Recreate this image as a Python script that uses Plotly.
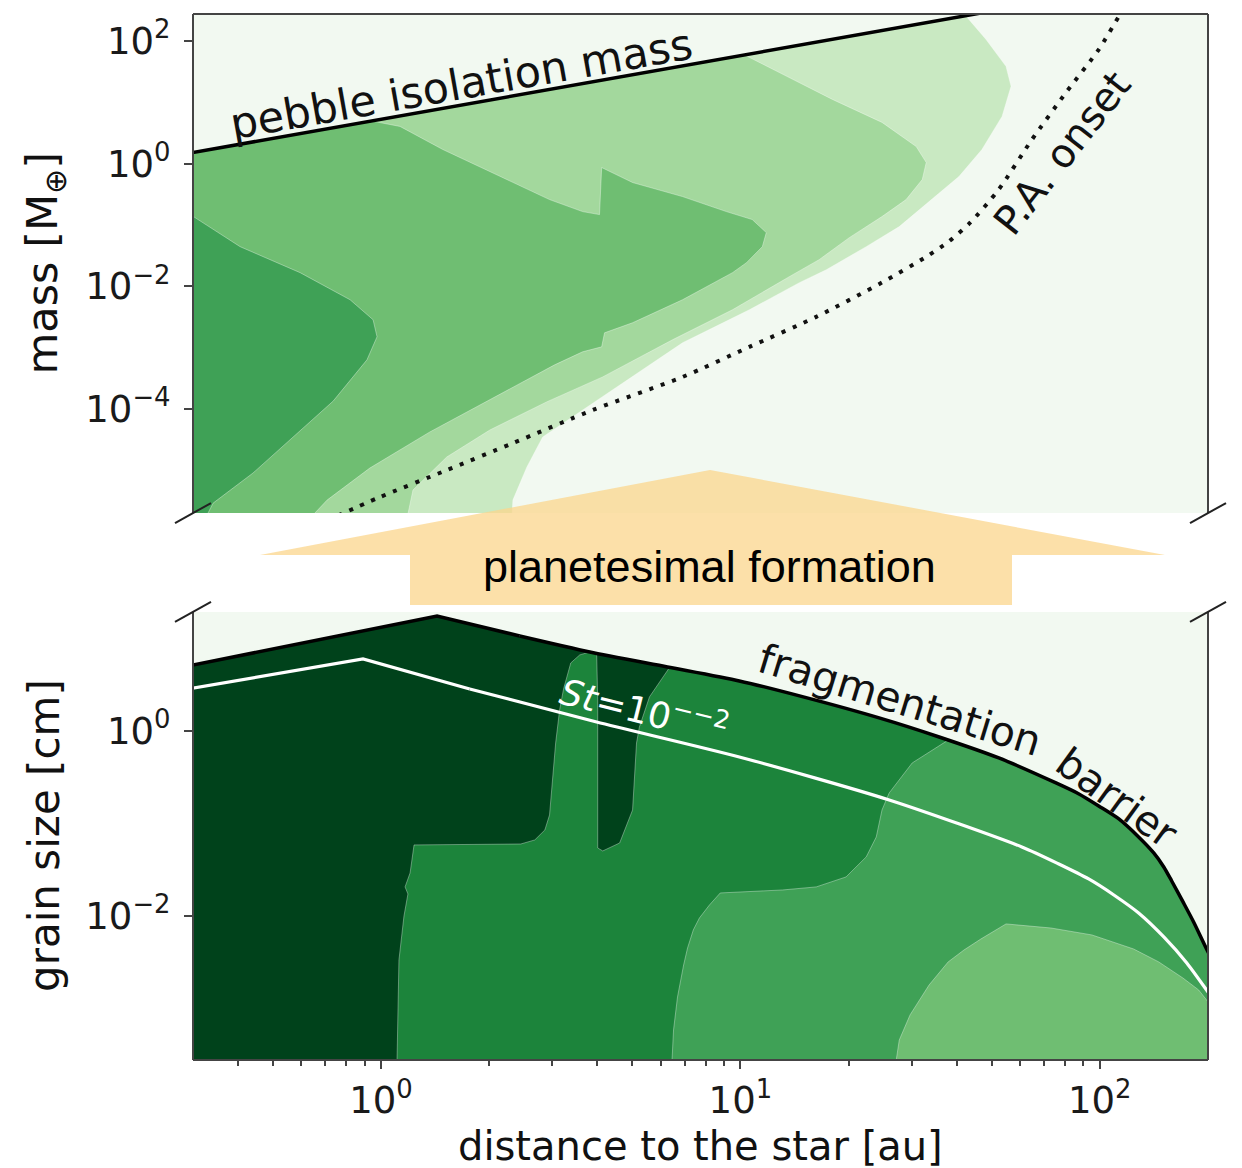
import numpy as np
import plotly.graph_objects as go

# ---------------- data (log10 values) ----------------
# x : log10(distance to the star / au)
# top y : log10(mass / M_earth) ; bottom y : log10(grain size / cm)

# pebble isolation mass (top panel)
iso_logr = [-0.60, 0.30, 1.00, 1.75]
iso_logm = [0.10, 1.03, 1.76, 2.54]

# pebble accretion onset (dotted)
pa_logr = [-0.15, -0.003, 0.183, 0.367, 0.589, 0.839, 1.025, 1.211, 1.394, 1.517,
           1.580, 1.640, 1.719, 1.811, 1.906, 1.997, 2.053, 2.075]
pa_logm = [-5.82, -5.44, -5.00, -4.56, -4.02, -3.48, -2.99, -2.50, -1.94, -1.52,
           -1.27, -0.96, -0.42, 0.39, 1.16, 1.86, 2.40, 2.60]

# filled contour levels of the top panel (outer boundary of each level)
m1_logr = [1.628, 1.683, 1.739, 1.753, 1.728, 1.672, 1.608, 1.533, 1.442, 1.350,
           1.239, 1.164, 1.025, 0.839, 0.617, 0.450, 0.406, 0.367, 0.364]
m1_logm = [2.404, 2.028, 1.586, 1.260, 0.770, 0.230, -0.211, -0.587, -1.028, -1.355,
           -1.731, -1.943, -2.384, -2.923, -3.806, -4.459, -4.949, -5.489, -5.80]

m2_logr = [1.011, 1.164, 1.256, 1.394, 1.489, 1.517, 1.506, 1.461, 1.394, 1.303,
           1.219, 1.136, 0.978, 0.811, 0.656, 0.617, 0.461, 0.303, 0.183, 0.089, 0.072]
m2_logm = [1.774, 1.325, 1.047, 0.672, 0.279, 0.018, -0.260, -0.587, -0.864, -1.208,
           -1.567, -1.845, -2.384, -2.874, -3.364, -3.479, -3.887, -4.345, -4.786, -5.325, -5.80]

m3_logr = [-0.025, 0.053, 0.172, 0.331, 0.469, 0.561, 0.608, 0.614, 0.700, 0.839,
           0.961, 1.033, 1.072, 1.061, 1.017, 0.978, 0.839, 0.700, 0.622, 0.614,
           0.561, 0.483, 0.294, 0.136, -0.031, -0.150, -0.20]
m3_logm = [0.694, 0.606, 0.230, -0.211, -0.587, -0.783, -0.832, -0.064, -0.309, -0.538,
           -0.783, -0.913, -1.126, -1.355, -1.616, -1.779, -2.221, -2.596, -2.760, -2.989,
           -3.070, -3.283, -3.874, -4.377, -4.966, -5.489, -5.80]

m4_logr = [-0.60, -0.522, -0.392, -0.225, -0.086, -0.022, -0.011, -0.039, -0.133,
           -0.244, -0.356, -0.467, -0.49]
m4_logm = [-0.80, -0.864, -1.355, -1.779, -2.221, -2.547, -2.825, -3.201, -3.874,
           -4.459, -5.047, -5.538, -5.80]

# fragmentation barrier (bottom panel)
frag_logr = [-0.60, 0.156, 0.386, 0.581, 0.797, 0.997, 1.175, 1.386, 1.553, 1.719,
             1.878, 1.942, 1.997, 2.053, 2.108, 2.150, 2.178, 2.200, 2.233, 2.261,
             2.297, 2.317]
frag_loga = [0.653, 1.243, 1.027, 0.854, 0.692, 0.541, 0.368, 0.141, -0.065, -0.292,
             -0.562, -0.681, -0.811, -0.951, -1.146, -1.319, -1.470, -1.622, -1.859, -2.065,
             -2.357, -2.508]

# Stokes number 1e-2 line
st_logr = [-0.60, -0.050, 0.247, 0.600, 0.997, 1.414, 1.783, 1.886, 1.969, 2.039,
           2.108, 2.178, 2.242, 2.297, 2.317]
st_loga = [0.413, 0.778, 0.454, 0.097, -0.281, -0.746, -1.254, -1.438, -1.600, -1.773,
           -1.968, -2.227, -2.508, -2.800, -2.908]

# filled contour levels of the bottom panel
g2_logr = [0.044, 0.050, 0.064, 0.075, 0.067, 0.081, 0.092, 0.389, 0.428, 0.456,
           0.469, 0.486, 0.497, 0.508, 0.528, 0.553, 0.581, 0.600, 0.603, 0.603,
           0.617, 0.664, 0.700, 0.711, 0.719, 0.747, 0.803]
g2_loga = [-3.70, -2.476, -2.000, -1.762, -1.686, -1.535, -1.232, -1.222, -1.178, -1.070,
           -0.908, -0.130, 0.227, 0.454, 0.735, 0.822, 0.854, 0.840, 0.335, -1.265,
           -1.297, -1.211, -0.854, -0.130, 0.043, 0.368, 0.687]

g3_logr = [1.578, 1.478, 1.414, 1.394, 1.378, 1.350, 1.294, 1.211, 1.117, 0.944,
           0.914, 0.886, 0.869, 0.853, 0.842, 0.825, 0.814, 0.808]
g3_loga = [-0.099, -0.346, -0.670, -0.854, -1.146, -1.362, -1.578, -1.686, -1.719, -1.751,
           -1.881, -2.022, -2.151, -2.346, -2.530, -2.876, -3.232, -3.70]

g4_logr = [1.428, 1.442, 1.472, 1.525, 1.578, 1.622, 1.669, 1.739, 1.864, 1.978,
           2.094, 2.164, 2.231, 2.275, 2.308, 2.40]
g4_loga = [-3.70, -3.341, -3.070, -2.746, -2.497, -2.368, -2.249, -2.086, -2.130, -2.205,
           -2.357, -2.497, -2.670, -2.800, -2.962, -3.05]

x_tick_exp = [0, 1, 2]
top_tick_exp = [2, 0, -2, -4]
bot_tick_exp = [0, -2]

# ---------------- style ----------------
X_RANGE = [-0.523, 2.301]
YT_RANGE = [-5.70, 2.44]
YB_RANGE = [-3.557, 1.286]
XL, XR, YT_LOW, YB_LOW = -0.60, 2.40, -6.0, -3.70

BG = "#f2f9f1"
C_TOP = ["#c9e9c2", "#a3d89d", "#6fbe72", "#3fa156"]
C_BOT = ["#00421b", "#1c843b", "#3fa156", "#6fbe72"]
EDGE = dict(width=1, color="rgba(255,255,255,0.35)")
FONT = "DejaVu Sans"
FS = 37

def pw(a):
    return np.power(10.0, np.asarray(a, dtype=float))

def sup(e):
    return "10<sup>" + (str(e) if e >= 0 else "\u2212" + str(-e)) + "</sup>"

fig = go.Figure()

def poly(xs, ys, color, xa, ya):
    fig.add_trace(go.Scatter(x=pw(xs), y=pw(ys), mode="lines", fill="toself",
                             fillcolor=color, line=EDGE, hoverinfo="skip",
                             showlegend=False, xaxis=xa, yaxis=ya))

def curve(xs, ys, color, width, xa, ya, shape="linear", dash="solid"):
    fig.add_trace(go.Scatter(x=pw(xs), y=pw(ys), mode="lines", line_shape=shape,
                             line=dict(color=color, width=width, dash=dash,
                                       **({"smoothing": 0.7} if shape == "spline" else {})),
                             hoverinfo="skip", showlegend=False, xaxis=xa, yaxis=ya))

# ---- top panel: filled levels bounded by the isolation mass ----
for (br, bm), col in zip([(m1_logr, m1_logm), (m2_logr, m2_logm), (m3_logr, m3_logm)], C_TOP[:3]):
    ir = [r for r in iso_logr if r < br[0]]
    im = [m for r, m in zip(iso_logr, iso_logm) if r < br[0]]
    xs = list(br) + [br[-1], XL] + ir + [br[0]]
    ys = list(bm) + [YT_LOW, YT_LOW] + im + [bm[0]]
    poly(xs, ys, col, "x2", "y2")
poly(list(m4_logr) + [m4_logr[-1], XL], list(m4_logm) + [YT_LOW, YT_LOW], C_TOP[3], "x2", "y2")

curve(pa_logr, pa_logm, "#111111", 4, "x2", "y2", shape="spline", dash="4px,8px")
curve(iso_logr, iso_logm, "#000000", 3.5, "x2", "y2")

# ---- bottom panel ----
poly(list(frag_logr) + [XR, XR, XL], list(frag_loga) + [frag_loga[-1], YB_LOW, YB_LOW],
     C_BOT[0], "x", "y")
fr_after = [r for r in frag_logr if r > g2_logr[-1]]
fa_after = [a for r, a in zip(frag_logr, frag_loga) if r > g2_logr[-1]]
poly(list(g2_logr) + fr_after + [XR, XR, g2_logr[0]],
     list(g2_loga) + fa_after + [frag_loga[-1], YB_LOW, YB_LOW], C_BOT[1], "x", "y")
fr3 = [r for r in frag_logr if r > g3_logr[0]][::-1]
fa3 = [a for r, a in zip(frag_logr, frag_loga) if r > g3_logr[0]][::-1]
poly(list(g3_logr) + [XR, XR] + fr3 + [g3_logr[0]],
     list(g3_loga) + [YB_LOW, frag_loga[-1]] + fa3 + [g3_loga[0]], C_BOT[2], "x", "y")
poly(list(g4_logr) + [XR], list(g4_loga) + [YB_LOW], C_BOT[3], "x", "y")

# St line: sharp kink, smooth afterwards
curve(st_logr[:3], st_loga[:3], "#ffffff", 3.2, "x", "y")
curve(st_logr[2:], st_loga[2:], "#ffffff", 3.2, "x", "y", shape="spline")
# fragmentation barrier: sharp peak, smooth afterwards
curve(frag_logr[:3], frag_loga[:3], "#000000", 3.5, "x", "y")
curve(frag_logr[2:], frag_loga[2:], "#000000", 3.5, "x", "y", shape="spline")

# ---------------- layout ----------------
TOP_DOM = [0.5229, 1.0]
BOT_DOM = [0.0, 0.4283]
SPINE = "#444444"
tickfont = dict(family=FONT, size=FS, color="#1a1a1a")
minor_vals = [k * 10.0 ** e for e in (-1, 0, 1, 2) for k in range(2, 10)
              if 0.31 < k * 10.0 ** e < 199]

fig.update_layout(
    width=1242, height=1168,
    margin=dict(l=193, r=34, t=14, b=108),
    paper_bgcolor="white", plot_bgcolor=BG,
    showlegend=False,
    xaxis=dict(domain=[0, 1], anchor="y", type="log", range=X_RANGE,
               tickvals=pw(x_tick_exp), ticktext=[sup(e) for e in x_tick_exp],
               ticks="outside", ticklen=8, tickwidth=2, tickcolor=SPINE,
               minor=dict(tickvals=minor_vals, ticks="outside", ticklen=5,
                          tickwidth=1.5, tickcolor=SPINE, showgrid=False),
               showgrid=False, zeroline=False, showline=False, tickfont=tickfont),
    xaxis2=dict(domain=[0, 1], anchor="y2", type="log", range=X_RANGE, matches="x",
                showticklabels=False, ticks="", showgrid=False, zeroline=False,
                showline=False),
    yaxis=dict(domain=BOT_DOM, anchor="x", type="log", range=YB_RANGE,
               tickvals=pw(bot_tick_exp), ticktext=[sup(e) for e in bot_tick_exp],
               ticks="outside", ticklen=8, tickwidth=2, tickcolor=SPINE,
               showgrid=False, zeroline=False, showline=False, tickfont=tickfont,
               ticklabelstandoff=6),
    yaxis2=dict(domain=TOP_DOM, anchor="x2", type="log", range=YT_RANGE,
                tickvals=pw(top_tick_exp), ticktext=[sup(e) for e in top_tick_exp],
                ticks="outside", ticklen=8, tickwidth=2, tickcolor=SPINE,
                showgrid=False, zeroline=False, showline=False, tickfont=tickfont,
                ticklabelstandoff=6),
)

shapes = []
def spine(xref, yref, x0, y0, x1, y1):
    shapes.append(dict(type="line", xref=xref, yref=yref, x0=x0, y0=y0, x1=x1, y1=y1,
                       line=dict(color=SPINE, width=2), layer="above"))
# top panel: left, top, right
spine("x2 domain", "y2 domain", 0, 0, 0, 1)
spine("x2 domain", "y2 domain", 0, 1, 1, 1)
spine("x2 domain", "y2 domain", 1, 0, 1, 1)
# bottom panel: left, right, bottom
spine("x domain", "y domain", 0, 0, 0, 1)
spine("x domain", "y domain", 1, 0, 1, 1)
spine("x domain", "y domain", 0, 0, 1, 0)

# axis break marks
for xa in (0, 1):
    for ya in (TOP_DOM[0], BOT_DOM[1]):
        shapes.append(dict(type="line", xref="paper", yref="paper",
                           xsizemode="pixel", ysizemode="pixel",
                           xanchor=xa, yanchor=ya, x0=-18, x1=18, y0=-10, y1=10,
                           line=dict(color="#222222", width=2), layer="above"))

# planetesimal formation arrow (paper coordinates)
shapes.append(dict(type="path", xref="paper", yref="paper", layer="above",
                   path="M 0.066,0.4828 L 0.5094,0.5641 L 0.9576,0.4828 L 0.8069,0.4828 "
                        "L 0.8069,0.4350 L 0.2138,0.4350 L 0.2138,0.4828 Z",
                   fillcolor="rgba(251,214,140,0.75)", line=dict(width=0)))
fig.update_layout(shapes=shapes)

ann = []
def text(t, x, y, xref, yref, angle=0, size=FS, color="#111111", family=FONT, **kw):
    d = dict(text=t, x=x, y=y, xref=xref, yref=yref, textangle=angle, showarrow=False,
             font=dict(family=family, size=size, color=color),
             xanchor="center", yanchor="middle")
    d.update(kw)
    ann.append(d)

text("pebble isolation mass", 0.222, 1.30, "x2", "y2", angle=-10, size=43)
text("P.A. onset", 1.894, 0.18, "x2", "y2", angle=-52, size=40)
text("fragmentation", 1.442, 0.33, "x", "y", angle=17, size=41)
text("barrier", 2.047, -0.72, "x", "y", angle=36, size=41)
text("<i>St</i>=10<sup>\u2212\u22122</sup>", 0.733, 0.24, "x", "y", angle=14,
     size=36, color="#ffffff")
text("planetesimal formation", 0.509, 0.472, "paper", "paper", size=45,
     family="Liberation Sans, Arial, sans-serif", color="#000000")
# axis titles
text("mass [M<sub>\u2295</sub>]", 0, 0.5, "paper", "y2 domain", angle=-90, xshift=-148, size=43)
text("grain size [cm]", 0, 0.5, "paper", "y domain", angle=-90, xshift=-148, size=42)
text("distance to the star [au]", 0.5, 0, "paper", "paper", yshift=-86, size=40)
fig.update_layout(annotations=ann)

fig.write_html("out.html")
